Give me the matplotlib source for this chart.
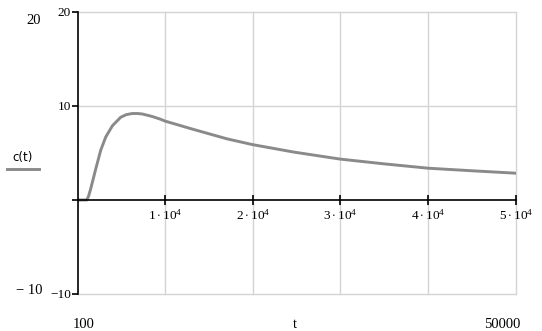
import matplotlib
matplotlib.use("Agg")
import matplotlib.pyplot as plt
from matplotlib.lines import Line2D

plt.rcParams['font.family'] = ['Liberation Serif', 'DejaVu Serif']
plt.rcParams['mathtext.fontset'] = 'custom'
plt.rcParams['mathtext.rm'] = 'Liberation Serif'
plt.rcParams['mathtext.it'] = 'Liberation Serif'

# data
t_vals = [100, 1100, 1300, 1550, 2120, 2690, 3260, 4020, 4960, 5600, 6290, 6900,
          7430, 8500, 9510, 10000, 12920, 15000, 17100, 19940, 24670, 29980,
          34910, 40030, 45150, 50000]
c_vals = [0, 0, 0.4, 1.2, 3.3, 5.3, 6.7, 7.9, 8.8, 9.08, 9.2, 9.2,
          9.15, 8.9, 8.59, 8.4, 7.6, 7.05, 6.5, 5.9, 5.1, 4.35,
          3.85, 3.38, 3.1, 2.85]
x_ticks = [10000, 20000, 30000, 40000, 50000]
x_tick_labels = [r'$1\cdot10^{4}$', r'$2\cdot10^{4}$', r'$3\cdot10^{4}$',
                 r'$4\cdot10^{4}$', r'$5\cdot10^{4}$']
y_ticks = [-10, 0, 10, 20]
y_tick_labels = ['\u221210', '', '10', '20']
x_min, x_max = 100, 50000
y_min, y_max = -10, 20

W, H = 542, 331
fig = plt.figure(figsize=(W / 100, H / 100), dpi=100)
ax = fig.add_axes([78 / W, (H - 294) / H, (516 - 78) / W, (294 - 12) / H])

ax.plot(t_vals, c_vals, color='#8a8a8a', lw=2.1, solid_joinstyle='round', zorder=3)

ax.set_xlim(x_min, x_max)
ax.set_ylim(y_min, y_max)

# grid lines
for yv in [10, 20, -10]:
    ax.axhline(yv, color='#d4d4d4', lw=1, zorder=1, clip_on=False)
for xv in x_ticks:
    ax.axvline(xv, color='#d4d4d4', lw=1, zorder=1, clip_on=False)

for s in ['top', 'right']:
    ax.spines[s].set_visible(False)
ax.spines['bottom'].set_position(('data', 0))
ax.spines['bottom'].set_linewidth(1.2)
ax.spines['left'].set_linewidth(1.2)
ax.spines['bottom'].set_zorder(4)
ax.spines['left'].set_zorder(4)

ax.set_xticks(x_ticks)
ax.set_xticklabels(x_tick_labels, fontsize=9.5)
ax.set_yticks(y_ticks)
ax.set_yticklabels(y_tick_labels, fontsize=9.5)
ax.tick_params(axis='x', direction='inout', length=7, width=1.2, pad=2)
ax.tick_params(axis='y', direction='out', length=4, width=1.2, pad=1)

# outer labels (axis limits and variable names)
fig.text(34 / W, 1 - 20 / H, '20', fontsize=10.5, ha='center', va='center')
fig.text(29 / W, 1 - 291 / H, '\u2212 10', fontsize=10.5, ha='center', va='center')
fig.text(84 / W, 1 - 325 / H, '100', fontsize=10.5, ha='center', va='center')
fig.text(502 / W, 1 - 325 / H, '50000', fontsize=10.5, ha='center', va='center')
fig.text(295 / W, 1 - 325 / H, 't', fontsize=10.5, ha='center', va='center')
fig.text(23 / W, 1 - 158 / H, 'c(t)', fontsize=8.5, ha='center', va='center',
         family=['DejaVu Sans'])
fig.add_artist(Line2D([7 / W, 39 / W], [1 - 169 / H, 1 - 169 / H],
                      color='#8a8a8a', lw=2.1, transform=fig.transFigure))

fig.savefig('out.png', dpi=100, facecolor='white')
